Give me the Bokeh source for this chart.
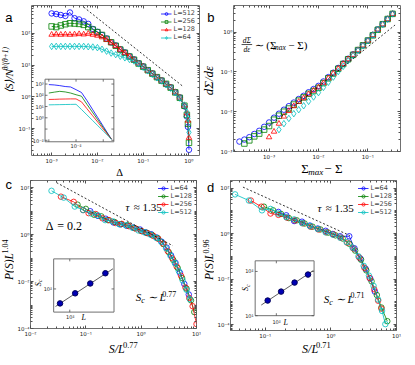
import numpy as np
from bokeh.plotting import figure
from bokeh.models import (Range1d, FixedTicker, CustomJSTickFormatter, Label,
                          Legend, LegendItem, LogAxis)
from bokeh.layouts import column, row
from bokeh.embed import file_html
from bokeh.resources import INLINE

BLUE, GREEN, RED, CYAN = "#0000FF", "#008000", "#FF0000", "#00BFBF"

# ---------------- data (log10 exponents) ----------------
# panel a : <S>/N^(theta/(theta+1)) vs Delta
a_delta_exp = [-3.0, -2.9, -2.8, -2.7, -2.6, -2.5, -2.4, -2.3, -2.2, -2.1,
               -2.0, -1.9, -1.8, -1.7, -1.6, -1.5, -1.4, -1.3, -1.2, -1.1,
               -1.0, -0.9, -0.8, -0.7, -0.6, -0.5, -0.4, -0.3, -0.2, -0.1,
               -0.046, -0.022, 0.0]
a_L512_exp = [2.63, 2.61, 2.58, 2.55, 2.66, 2.48, 2.44, 2.38, 2.30, 2.14,
              2.05, 1.95, 1.84, 1.72, 1.62, 1.50, 1.40, 1.28, 1.18, 1.06,
              0.96, 0.84, 0.74, 0.62, 0.52, 0.40, 0.30, 0.15, -0.02, -0.30,
              -0.62, -0.95, -1.67]
a_L256_exp = [2.22, 2.20, 2.25, 2.29, 2.32, 2.31, 2.30, 2.27, 2.20, 2.12,
              2.04, 1.95, 1.83, 1.72, 1.61, 1.49, 1.39, 1.27, 1.17, 1.05,
              0.95, 0.84, 0.73, 0.62, 0.51, 0.41, 0.29, 0.14, -0.03, -0.28,
              -0.57, -0.85, -1.45]
a_L128_exp = [1.96, 1.97, 1.96, 1.97, 1.96, 1.97, 1.98, 1.97, 1.99, 1.96,
              1.93, 1.88, 1.80, 1.71, 1.60, 1.49, 1.38, 1.27, 1.16, 1.06,
              0.95, 0.83, 0.73, 0.62, 0.52, 0.40, 0.29, 0.15, -0.02, -0.27,
              -0.52, -0.75, -1.29]
a_L64_exp = [1.59, 1.59, 1.59, 1.59, 1.59, 1.59, 1.59, 1.59, 1.58, 1.57,
             1.55, 1.50, 1.44, 1.38, 1.33, 1.28, 1.23, 1.18, 1.13, 1.04,
             0.93, 0.82, 0.71, 0.60, 0.50, 0.38, 0.27, 0.13, -0.04, -0.26,
             -0.48, -0.68, -1.12]
a_dash_x_exp = [-2.30, -0.15]
a_dash_y_exp = [2.83, 0.35]
# inset of panel a (unscaled <S>)
ai_delta_exp = [-3.0, -2.8, -2.6, -2.4, -2.2, -2.0, -1.8, -1.6, -1.4, -1.2, -1.0, -0.8, -0.7]
ai_L512_exp = [2.95, 2.92, 2.86, 2.78, 2.74, 2.50, 2.25, 1.54, 0.77, 0.01, -0.75, -1.52, -1.90]
ai_L256_exp = [2.20, 2.28, 2.35, 2.30, 2.20, 2.05, 1.92, 1.20, 0.51, -0.18, -0.87, -1.55, -1.90]
ai_L128_exp = [1.63, 1.64, 1.66, 1.67, 1.68, 1.68, 1.42, 0.81, 0.21, -0.39, -1.00, -1.60, -1.90]
ai_L64_exp = [1.15, 1.16, 1.17, 1.18, 1.19, 1.20, 0.74, 0.26, -0.22, -0.70, -1.18, -1.66, -1.90]

# panel b : dSigma/deps vs Sigma_max - Sigma (all series end at the last grid value)
b_grid_exp = [-3.6, -3.5, -3.4, -3.3, -3.2, -3.1, -3.0, -2.9, -2.8, -2.7, -2.6,
              -2.5, -2.4, -2.3, -2.2, -2.1, -2.0, -1.9, -1.8, -1.7, -1.6, -1.5,
              -1.4, -1.3, -1.2, -1.1, -1.0, -0.9, -0.8, -0.7, -0.6, -0.5]
b_L512_exp = [-2.75, -2.70, -2.64, -2.56, -2.48, -2.38, -2.27, -2.15, -2.05, -1.95, -1.86,
              -1.77, -1.68, -1.60, -1.51, -1.43, -1.35, -1.24, -1.13, -1.02, -0.90, -0.79,
              -0.67, -0.56, -0.45, -0.33, -0.21, -0.07, 0.07, 0.20, 0.33, 0.46]
b_L256_exp = [-2.80, -2.72, -2.62, -2.55, -2.45, -2.36, -2.20, -2.10, -2.00, -1.92,
              -1.82, -1.72, -1.64, -1.55, -1.48, -1.40, -1.28, -1.16, -1.04, -0.92,
              -0.80, -0.68, -0.57, -0.45, -0.33, -0.21, -0.08, 0.06, 0.20, 0.33, 0.46]
b_L128_exp = [-2.64, -2.50, -2.30, -2.12, -1.98, -1.86, -1.75, -1.66, -1.56, -1.47,
              -1.39, -1.28, -1.16, -1.04, -0.92, -0.80, -0.68, -0.57, -0.45, -0.33,
              -0.21, -0.07, 0.07, 0.20, 0.33, 0.46]
b_L64_exp = [-2.45, -2.30, -2.17, -2.05, -1.95, -1.85, -1.74, -1.63, -1.52, -1.39,
             -1.26, -1.13, -0.99, -0.86, -0.72, -0.59, -0.46, -0.34, -0.21, -0.07,
             0.07, 0.20, 0.33, 0.46]
b_dash_x_exp = [-3.0, -0.45]
b_dash_y_exp = [-2.37, 0.18]

# panel c : P(S) L^1.04 vs S/L^0.77
c_L64_x = [-0.92, -0.78, -0.64, -0.50, -0.38, -0.26, -0.14, -0.02, 0.08, 0.18, 0.28, 0.37,
           0.46, 0.54, 0.62, 0.70, 0.78, 0.86]
c_L64_y = [1.00, 0.80, 0.68, 0.52, 0.44, 0.38, 0.30, 0.22, 0.10, 0.02, -0.12, -0.30,
           -0.55, -0.88, -1.20, -1.62, -2.10, -2.55]
c_L128_x = [-1.15, -1.00, -0.85, -0.72, -0.60, -0.48, -0.36, -0.24, -0.12, 0.00, 0.10,
            0.20, 0.30, 0.40, 0.50, 0.58, 0.66, 0.74, 0.82, 0.90, 0.96]
c_L128_y = [1.28, 1.10, 0.85, 0.78, 0.62, 0.54, 0.45, 0.40, 0.28, 0.16, 0.08,
            -0.02, -0.15, -0.40, -0.75, -1.08, -1.42, -1.85, -2.30, -2.80, -3.30]
c_L256_x = [-1.45, -1.22, -1.05, -0.95, -0.82, -0.70, -0.58, -0.46, -0.35, -0.22, -0.10,
            0.01, 0.12, 0.22, 0.31, 0.40, 0.48, 0.56, 0.64, 0.72, 0.80, 0.87, 0.93, 1.00]
c_L256_y = [1.62, 1.40, 1.05, 0.92, 0.88, 0.70, 0.62, 0.50, 0.46, 0.36, 0.26,
            0.15, 0.06, -0.05, -0.18, -0.38, -0.70, -1.00, -1.35, -1.75, -2.25, -2.70, -3.05, -3.81]
c_L512_x = [-1.62, -1.40, -1.20, -1.05, -0.90, -0.78, -0.65, -0.52, -0.40, -0.28, -0.16,
            -0.05, 0.06, 0.17, 0.27, 0.36, 0.45, 0.53, 0.61, 0.68, 0.75, 0.82, 0.88]
c_L512_y = [1.87, 1.58, 1.20, 1.05, 0.90, 0.82, 0.62, 0.57, 0.45, 0.40, 0.30,
            0.18, 0.10, 0.00, -0.13, -0.30, -0.58, -0.90, -1.22, -1.55, -1.95, -2.35, -2.75]
c_dash_x_exp = [-1.53, 0.57]
c_dash_y_exp = [2.22, -0.47]

# panel d : P(S) L^0.96 vs S/L^0.71
d_L64_x = [-0.80, -0.68, -0.56, -0.44, -0.32, -0.20, -0.08, 0.03, 0.14, 0.28, 0.36, 0.45,
           0.53, 0.60, 0.67]
d_L64_y = [0.95, 0.80, 0.55, 0.52, 0.35, 0.22, 0.12, -0.02, -0.12, -0.12, -0.65, -1.10,
           -1.55, -1.98, -2.55]
d_L128_x = [-1.02, -0.88, -0.76, -0.64, -0.52, -0.40, -0.28, -0.16, -0.04, 0.07, 0.18,
            0.28, 0.37, 0.46, 0.54, 0.62, 0.70, 0.77, 0.86]
d_L128_y = [1.18, 1.02, 0.86, 0.68, 0.58, 0.44, 0.30, 0.18, 0.04, -0.08, -0.22,
            -0.45, -0.75, -1.15, -1.62, -2.10, -2.70, -3.25, -3.85]
d_L256_x = [-1.22, -1.06, -0.92, -0.80, -0.67, -0.55, -0.43, -0.31, -0.19, -0.07, 0.04,
            0.15, 0.25, 0.34, 0.43, 0.51, 0.59, 0.66, 0.72, 0.77]
d_L256_y = [1.45, 1.18, 0.88, 0.82, 0.70, 0.58, 0.45, 0.30, 0.18, 0.06, -0.04,
            -0.18, -0.40, -0.65, -1.05, -1.50, -1.95, -2.45, -2.95, -3.30]
d_L512_x = [-1.46, -1.25, -1.05, -0.92, -0.80, -0.68, -0.56, -0.44, -0.32, -0.20, -0.08,
            0.03, 0.14, 0.24, 0.33, 0.42, 0.50, 0.58, 0.65, 0.72, 0.78, 0.83]
d_L512_y = [1.72, 1.45, 1.02, 1.08, 0.88, 0.72, 0.62, 0.46, 0.33, 0.20, 0.05,
            -0.05, -0.18, -0.38, -0.62, -1.00, -1.42, -1.85, -2.30, -2.90, -3.40, -3.98]
d_dash_x_exp = [-1.34, 0.29]
d_dash_y_exp = [2.04, -0.09]

# insets of c and d : S_c vs L
ins_L = [64, 128, 256, 512]
c_Sc = [46, 79, 134, 232]
d_Sc = [22, 35, 56, 85]
c_fit_L, c_fit_S = [52, 725], [39, 295]
d_fit_L, d_fit_S = [46, 676], [17.4, 105]


def E(v):
    return 10.0 ** np.asarray(v, dtype=float)


# ---------------- layout helpers ----------------
W, H = 406, 356
SX, SY = W / 415.0, H / 365.0
WA, HA = 201, 178
WB, HC = W - WA, H - HA
TICK = "#505050"

SUP = ("const e = Math.round(Math.log10(tick));"
       "const m = {'-':'\u207b','0':'\u2070','1':'\u00b9','2':'\u00b2','3':'\u00b3','4':'\u2074',"
       "'5':'\u2075','6':'\u2076','7':'\u2077','8':'\u2078','9':'\u2079'};"
       "return '10' + String(e).split('').map(c => m[c]).join('');")

SUPMAP = {'-': '\u207b', '0': '\u2070', '1': '\u00b9', '2': '\u00b2', '3': '\u00b3',
          '4': '\u2074', '5': '\u2075', '6': '\u2076', '7': '\u2077', '8': '\u2078', '9': '\u2079'}


def pow10(e):
    return "10" + "".join(SUPMAP[c] for c in str(e))


def minors(lo, hi, extra=()):
    out = []
    for k in range(int(np.floor(lo)) - 1, int(np.ceil(hi)) + 1):
        for m in range(2, 10):
            v = m * 10.0 ** k
            if lo <= np.log10(v) <= hi:
                out.append(v)
    return out + list(extra)


class Strip:
    """Plain text strip (frame = whole canvas, coordinates in canvas pixels)."""
    def __init__(self, ox, oy, w, h):
        self.ox, self.oy = ox, oy
        p = figure(width=w, height=h, x_range=Range1d(0, w), y_range=Range1d(h, 0),
                   output_backend="svg", toolbar_location=None,
                   min_border=0, min_border_left=0, min_border_right=0,
                   min_border_top=0, min_border_bottom=0,
                   x_axis_location=None, y_axis_location=None)
        p.grid.visible = False
        p.outline_line_color = None
        p.background_fill_color = "white"
        p.border_fill_color = "white"
        self.p = p

    def label(self, rx, ry, **kw):
        self.p.add_layout(Label(x=rx * SX - self.ox, y=ry * SY - self.oy, **kw))


class Panel:
    def __init__(self, ox, oy, w, h, mb, xr, yr, xt, yt, yextra=()):
        self.ox, self.oy = ox, oy
        l, r, t, b = mb
        self.l, self.t = l, t
        self.fw, self.fh = w - l - r, h - t - b
        self.xr, self.yr = xr, yr
        p = figure(width=w, height=h, x_axis_type="log", y_axis_type="log",
                   x_range=Range1d(10 ** xr[0], 10 ** xr[1]),
                   y_range=Range1d(10 ** yr[0], 10 ** yr[1]),
                   output_backend="svg", toolbar_location=None,
                   min_border_left=l, min_border_right=r,
                   min_border_top=t, min_border_bottom=b)
        p.grid.visible = False
        p.outline_line_color = "#707070"
        p.background_fill_color = "white"
        p.border_fill_color = "white"
        xminor = minors(*xr)
        yminor = minors(*yr, extra=yextra)
        p.xaxis.ticker = FixedTicker(ticks=xt, minor_ticks=xminor)
        p.yaxis.ticker = FixedTicker(ticks=yt, minor_ticks=yminor)
        for ax in (p.xaxis[0], p.yaxis[0]):
            ax.formatter = CustomJSTickFormatter(code=SUP)
            ax.axis_line_color = None
            ax.major_tick_in, ax.major_tick_out = 3, 0
            ax.minor_tick_in, ax.minor_tick_out = 2, 0
            ax.major_tick_line_color = TICK
            ax.minor_tick_line_color = TICK
            ax.major_label_text_font = "DejaVu Sans"
            ax.major_label_text_font_size = "5.5px"
            ax.major_label_text_color = "#222222"
        p.xaxis[0].major_label_standoff = 2
        p.yaxis[0].major_label_standoff = 1
        # box ticks on the right and top sides (no labels)
        for side, ticks, mn in [("right", yt, yminor), ("above", xt, xminor)]:
            bx = LogAxis(ticker=FixedTicker(ticks=ticks, minor_ticks=mn),
                         formatter=CustomJSTickFormatter(code="return '';"),
                         axis_line_color=None, major_tick_in=3, major_tick_out=0,
                         minor_tick_in=2, minor_tick_out=0, major_label_standoff=0,
                         major_tick_line_color=TICK, minor_tick_line_color=TICK,
                         major_label_text_font_size="1px")
            p.add_layout(bx, side)
        self.p = p

    def d(self, rx, ry):
        cx = rx * SX - self.ox
        cy = ry * SY - self.oy
        fx = (cx - self.l) / self.fw
        fy = (cy - self.t) / self.fh
        return (10 ** (self.xr[0] + fx * (self.xr[1] - self.xr[0])),
                10 ** (self.yr[1] - fy * (self.yr[1] - self.yr[0])))

    def label(self, rx, ry, **kw):
        dx, dy = self.d(rx, ry)
        self.p.add_layout(Label(x=dx, y=dy, **kw))

    def inset(self, name, box, xr, yr, xt=(), yt=()):
        x0r, x1r, y0r, y1r = box
        cx0 = x0r * SX - self.ox - self.l
        cx1 = x1r * SX - self.ox - self.l
        cy0 = y0r * SY - self.oy - self.t
        cy1 = y1r * SY - self.oy - self.t
        kx = (xr[1] - xr[0]) / (cx1 - cx0)
        ky = (yr[1] - yr[0]) / (cy1 - cy0)
        xs, xe = xr[0] - cx0 * kx, xr[1] + (self.fw - cx1) * kx
        ye, ys = yr[1] + cy0 * ky, yr[0] - (self.fh - cy1) * ky
        self.p.extra_x_ranges = {**self.p.extra_x_ranges, name: Range1d(10 ** xs, 10 ** xe)}
        self.p.extra_y_ranges = {**self.p.extra_y_ranges, name: Range1d(10 ** ys, 10 ** ye)}
        self.p.quad(left=[10 ** xr[0]], right=[10 ** xr[1]], bottom=[10 ** yr[0]], top=[10 ** yr[1]],
                    x_range_name=name, y_range_name=name, fill_color="white",
                    line_color="#707070", line_width=1, level="underlay")
        tl_y = 2.5 * ky
        tl_x = 2.5 * kx
        for t in xt:
            self.p.segment(x0=[t], x1=[t], y0=[10 ** yr[0]], y1=[10 ** (yr[0] + tl_y)],
                           x_range_name=name, y_range_name=name, line_color=TICK, line_width=0.8)
            self.p.segment(x0=[t], x1=[t], y0=[10 ** yr[1]], y1=[10 ** (yr[1] - tl_y)],
                           x_range_name=name, y_range_name=name, line_color=TICK, line_width=0.8)
        for t in yt:
            self.p.segment(x0=[10 ** xr[0]], x1=[10 ** (xr[0] + tl_x)], y0=[t], y1=[t],
                           x_range_name=name, y_range_name=name, line_color=TICK, line_width=0.8)
            self.p.segment(x0=[10 ** xr[1]], x1=[10 ** (xr[1] - tl_x)], y0=[t], y1=[t],
                           x_range_name=name, y_range_name=name, line_color=TICK, line_width=0.8)


CW = {'m': .72, 'a': .5, 'x': .45, 'd': .5, 'c': .44, 'e': .44, '.': .25, '(': .33, ')': .33,
      '/': .28, ' ': .28, '=': .56, '\u2248': .55, '\u223c': .55, '\u2212': .56, '+': .56,
      '\u27e8': .33, '\u27e9': .33, '\u03b8': .5, '\u03c4': .5, '\u03b5': .44, 'S': .52,
      'P': .61, 'L': .56, 'N': .67, '\u03a3': .62, '\u0394': .7, '1': .5}


def est_w(t, s):
    return sum(CW.get(ch, 0.5) for ch in t) * s


def mtext(P, parts, rx, ry, rotate=False, align="center", font="Liberation Serif",
          baseline="middle"):
    widths = [est_w(t, s) for (t, s, dy, st) in parts]
    total = sum(widths)
    pos = {"center": -total / 2, "left": 0.0, "right": -total}[align]
    for (t, s, dy, st), w in zip(parts, widths):
        lead = est_w(t[:len(t) - len(t.lstrip(' '))], s)
        txt = t.strip(' ')
        q = pos + lead
        if rotate:
            x, y = rx - dy, ry - q
        else:
            x, y = rx + q, ry - dy
        P.label(x, y, text=txt, text_font=font, text_font_size=f"{s}px",
                text_font_style=st, text_color="black", text_align="left",
                text_baseline=baseline, angle=(np.pi / 2 if rotate else 0.0))
        pos += w


def small(P, text, rx, ry, align="center", size=5.5):
    P.label(rx, ry, text=text, text_font="DejaVu Sans", text_font_size=f"{size}px",
            text_color="#222222", text_align=align, text_baseline="middle")


def letter(P, t, rx, ry):
    P.label(rx, ry, text=t, text_font="Liberation Sans", text_font_size="13px",
            text_color="black", text_align="center", text_baseline="alphabetic")


def legend(P, items, size_h=7):
    leg = Legend(items=items, location="top_right", label_text_font="DejaVu Sans",
                 label_text_font_size="6.5px", glyph_width=11, glyph_height=size_h,
                 label_height=size_h, label_standoff=2, spacing=0, padding=2, margin=2,
                 border_line_alpha=0, background_fill_alpha=0)
    P.p.add_layout(leg)


LB = 13  # left border of every panel (tick labels only)

# ---------------- panel a ----------------
SLa = Strip(0, 0, 15, HA)
PA = Panel(15, 0, WA - 15, 166, (LB, 2, 5, 9), (-3.44, 0.23), (-1.85, 2.88),
           [1e-3, 1e-2, 1e-1, 1.0], [1e-1, 1.0, 10.0, 100.0])
SBa = Strip(15, 166, WA - 15, HA - 166)
pa = PA.p
ax = E(a_delta_exp)
items = []
for lab, yv, col, mk in [("L=512", a_L512_exp, BLUE, "circle"), ("L=256", a_L256_exp, GREEN, "square"),
                         ("L=128", a_L128_exp, RED, "triangle"), ("L=64", a_L64_exp, CYAN, "diamond")]:
    lr = pa.line(ax, E(yv), line_color=col, line_width=0.8)
    sr = pa.scatter(ax, E(yv), marker=mk, size=5.5 if mk != "diamond" else 6.5,
                    line_color=col, fill_color=None, line_width=0.8)
    items.append(LegendItem(label=lab, renderers=[lr, sr]))
pa.line(E(a_dash_x_exp), E(a_dash_y_exp), line_color="black", line_dash="2 2", line_width=0.8)
legend(PA, items)

PA.inset("ia", (42.7, 114.3, 81.7, 146.7), (-3.14, -0.61), (-2.13, 3.43),
         xt=[1e-3, 1e-2, 1e-1], yt=[1e-2, 1e-1, 1.0, 10.0, 100.0, 1000.0])
aix = E(ai_delta_exp)
for yv, col in [(ai_L512_exp, BLUE), (ai_L256_exp, GREEN), (ai_L128_exp, RED), (ai_L64_exp, CYAN)]:
    pa.line(aix, E(yv), line_color=col, line_width=0.8, x_range_name="ia", y_range_name="ia")
small(PA, pow10(-2), 75, 151.5, size=5)
for e, yy in [(3, 87), (2, 98.5), (1, 110.2), (0, 122), (-2, 145.5)]:
    small(PA, pow10(e), 41.5, yy, align="right", size=5)

mtext(SLa, [("\u27e8S\u27e9/N", 11, 0, "italic"), ("\u03b8/(\u03b8+1)", 7.5, 3.5, "italic")],
      8.4, 72, rotate=True)
mtext(SBa, [("\u0394", 10.5, 0, "normal")], 115, 176)
letter(SLa, "a", 8.5, 17)

# ---------------- panel b ----------------
SLb = Strip(WA, 0, 16, HA)
PB = Panel(WA + 16, 0, WB - 16, 162, (LB, 6, 5, 9), (-3.72, -0.34), (-3.0, 0.67),
           [1e-3, 1e-2, 1e-1], [1e-3, 1e-2, 1e-1, 1.0])
SBb = Strip(WA + 16, 162, WB - 16, HA - 162)
pb = PB.p
bgrid = E(b_grid_exp)
for yv, col, mk in [(b_L512_exp, BLUE, "circle"), (b_L256_exp, GREEN, "square"),
                    (b_L128_exp, RED, "triangle"), (b_L64_exp, CYAN, "diamond")]:
    xs = bgrid[len(bgrid) - len(yv):]
    pb.scatter(xs, E(yv), marker=mk, size=5.5 if mk != "diamond" else 6.5,
               line_color=col, fill_color=None, line_width=0.8)
pb.line(E(b_dash_x_exp), E(b_dash_y_exp), line_color="black", line_dash="2 2", line_width=0.8)
mtext(SLb, [("d\u03a3/d\u03b5", 13, 0, "italic")], 212.5, 82, rotate=True)
mtext(SBb, [("\u03a3", 13, 0, "normal"), ("max", 9, -3, "italic"), (" \u2212 \u03a3", 13, 0, "normal")],
      323, 172.5)
# formula dSigma/deps ~ (Sigma_max - Sigma)
mtext(PB, [("d\u03a3", 7.5, 0, "italic")], 249, 41)
mtext(PB, [("d\u03b5", 7.5, 0, "italic")], 249, 50.5)
fx0, fy0 = PB.d(243.5, 45.7)
fx1, _ = PB.d(254.5, 45.7)
pb.segment(x0=[fx0], y0=[fy0], x1=[fx1], y1=[fy0], line_color="black", line_width=0.7)
mtext(PB, [("\u223c (\u03a3", 11, 0, "normal"), ("max", 7.5, -2.5, "italic"),
           (" \u2212 \u03a3)", 11, 0, "normal")], 257, 46, align="left")
letter(SLb, "b", 215, 17)

# ---------------- panel c ----------------
SLc = Strip(0, HA, 14, HC)
PC = Panel(14, HA, WA - 14, 161, (LB, 5, 2, 9), (-2.0, 1.0), (-4.0, 2.31),
           [1e-2, 1e-1, 1.0, 10.0], [1e-4, 1e-2, 1.0, 100.0], yextra=[1e-3, 1e-1, 10.0])
SBc = Strip(14, HA + 161, WA - 14, HC - 161)
pc = PC.p
items = []
for lab, xv, yv, col in [("L=64", c_L64_x, c_L64_y, BLUE), ("L=128", c_L128_x, c_L128_y, GREEN),
                         ("L=256", c_L256_x, c_L256_y, RED), ("L=512", c_L512_x, c_L512_y, CYAN)]:
    lr = pc.line(E(xv), E(yv), line_color=col, line_width=0.8)
    sr = pc.scatter(E(xv), E(yv), marker="circle", size=5.5, line_color=col,
                    fill_color=None, line_width=0.8)
    items.append(LegendItem(label=lab, renderers=[lr, sr]))
pc.line(E(c_dash_x_exp), E(c_dash_y_exp), line_color="black", line_dash="2 2", line_width=0.8)
legend(PC, items, size_h=8)
PC.inset("ic", (51.7, 114.5, 266, 321.3), (1.679, 2.881), (1.46, 2.70), xt=[100.0], yt=[100.0])
pc.line(c_fit_L, c_fit_S, line_color="#333333", line_width=0.8, x_range_name="ic", y_range_name="ic")
pc.scatter(ins_L, c_Sc, marker="circle", size=5.5, fill_color="#0000B4", line_color="#00005A",
           x_range_name="ic", y_range_name="ic")
small(PC, pow10(2), 50, 297.3, align="right", size=5)
small(PC, pow10(2), 69, 326.5, size=5)
mtext(PC, [("L", 8, 0, "italic")], 83, 327)
mtext(PC, [("S", 8, 0, "italic"), ("c", 6, -2, "italic")], 36, 291, rotate=True)
mtext(SLc, [("P(S)L", 11.5, 0, "italic"), ("1.04", 8, 3.5, "normal")], 8.4, 266, rotate=True)
mtext(SBc, [("S/L", 12, 0, "italic"), ("0.77", 8.5, 4, "normal")], 120, 356.8)
mtext(PC, [("\u03c4", 11, 0, "italic"), (" \u2248 1.35", 11, 0, "normal")], 145, 212)
mtext(PC, [("\u0394", 12, 0, "normal"), (" = 0.2", 12, 0, "normal")], 62, 232)
mtext(PC, [("S", 11, 0, "italic"), ("c", 8, -3, "italic"), (" \u223c L", 11, 0, "italic"),
           ("0.77", 8, 4, "normal")], 158, 306)
letter(SLc, "c", 8.5, 189)

# ---------------- panel d ----------------
SLd = Strip(WA, HA, 13, HC)
PD = Panel(WA + 13, HA, WB - 13, 163, (LB, 10, 2, 9), (-1.53, 1.0), (-4.26, 2.33),
           [1e-1, 1.0, 10.0], [1e-4, 1e-2, 1.0, 100.0], yextra=[1e-3, 1e-1, 10.0])
SBd = Strip(WA + 13, HA + 163, WB - 13, HC - 163)
pd_ = PD.p
items = []
for lab, xv, yv, col in [("L=64", d_L64_x, d_L64_y, BLUE), ("L=128", d_L128_x, d_L128_y, GREEN),
                         ("L=256", d_L256_x, d_L256_y, RED), ("L=512", d_L512_x, d_L512_y, CYAN)]:
    lr = pd_.line(E(xv), E(yv), line_color=col, line_width=0.8)
    sr = pd_.scatter(E(xv), E(yv), marker="circle", size=5.5, line_color=col,
                     fill_color=None, line_width=0.8)
    items.append(LegendItem(label=lab, renderers=[lr, sr]))
pd_.line(E(d_dash_x_exp), E(d_dash_y_exp), line_color="black", line_dash="2 2", line_width=0.8)
legend(PD, items, size_h=8)
PD.inset("id", (257.7, 319, 268, 325), (1.526, 2.845), (1.0, 2.24), xt=[100.0], yt=[10.0, 100.0])
pd_.line(d_fit_L, d_fit_S, line_color="#333333", line_width=0.8, x_range_name="id", y_range_name="id")
pd_.scatter(ins_L, d_Sc, marker="circle", size=5.5, fill_color="#0000B4", line_color="#00005A",
            x_range_name="id", y_range_name="id")
small(PD, pow10(2), 256, 279, align="right", size=5)
small(PD, pow10(1), 256, 325, align="right", size=5)
small(PD, pow10(2), 280, 331.5, size=5)
mtext(PD, [("L", 8, 0, "italic")], 289.5, 332)
mtext(PD, [("S", 8, 0, "italic"), ("c", 6, -2, "italic")], 248, 296, rotate=True)
mtext(SLd, [("P(S)L", 11.5, 0, "italic"), ("0.96", 8, 3.5, "normal")], 213.2, 266, rotate=True)
mtext(SBd, [("S/L", 12, 0, "italic"), ("0.71", 8.5, 4, "normal")], 319, 357.5)
mtext(PD, [("\u03c4", 11, 0, "italic"), (" \u2248 1.35", 11, 0, "normal")], 341, 213)
mtext(PD, [("S", 11, 0, "italic"), ("c", 8, -3, "italic"), (" \u223c L", 11, 0, "italic"),
           ("0.71", 8, 4, "normal")], 350, 308)
letter(SLd, "d", 214.8, 191.5)

qa = row(SLa.p, column(PA.p, SBa.p))
qb = row(SLb.p, column(PB.p, SBb.p))
qc = row(SLc.p, column(PC.p, SBc.p))
qd = row(SLd.p, column(PD.p, SBd.p))
layout = column(row(qa, qb), row(qc, qd))
open("out.html", "w").write(file_html(layout, INLINE))
